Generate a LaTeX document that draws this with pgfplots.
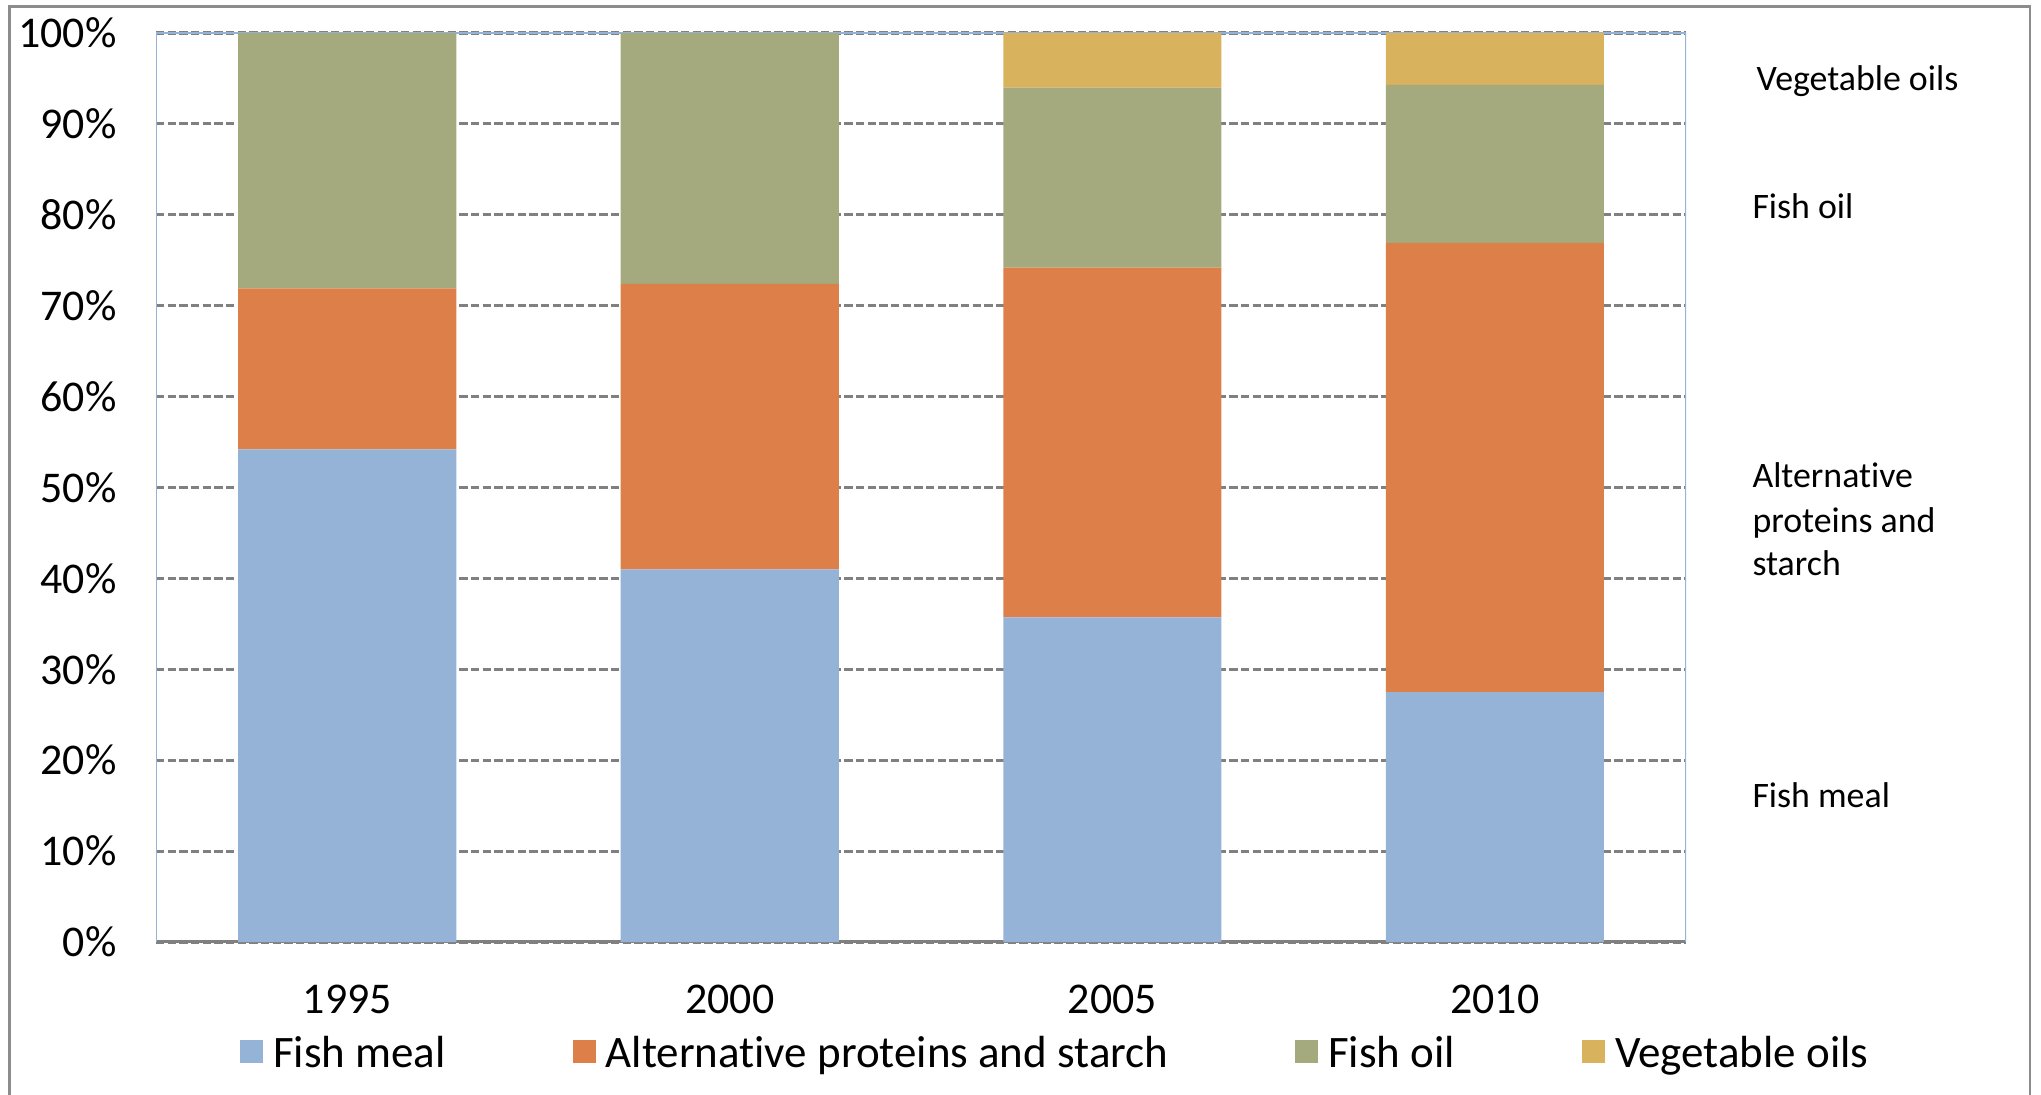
\documentclass[border=0pt]{standalone}
\usepackage{pgfplots}
\usepackage{pgfplotstable}
\pgfplotsset{compat=1.18}
\usepackage{fontspec}
\setmainfont{Carlito}[Ligatures=NoCommon]
\definecolor{fmeal}{RGB}{149,179,215}
\definecolor{altp}{RGB}{221,127,72}
\definecolor{foil}{RGB}{164,170,126}
\definecolor{voil}{RGB}{216,178,92}
\definecolor{gridc}{RGB}{128,128,128}
\definecolor{framec}{RGB}{149,179,215}
\definecolor{borderc}{RGB}{140,140,140}

\pgfplotstableread{
x fm alt fo vo
0 54.2 17.7 28.1 0
1 41.0 31.4 27.6 0
2 35.7 38.5 19.8 6.0
3 27.5 49.4 17.4 5.7
}\datatable

\pgfplotsset{sq legend/.style={legend image code/.code={\fill[##1] (0pt,-3.2pt) rectangle (8.3pt,5.1pt);}}}

\begin{document}
\begin{tikzpicture}
\useasboundingbox (0pt,0pt) rectangle (734.76pt,393.84pt);
\draw[borderc, line width=1pt] (3.42pt,-10pt) rectangle (730.8pt,391.4pt);
\begin{axis}[
  at={(56.16pt,54.72pt)}, anchor=south west,
  scale only axis, width=550.8pt, height=327.24pt,
  ybar stacked, bar width=0.57,
  xmin=-0.5, xmax=3.5, ymin=0, ymax=100,
  xtick={0,1,2,3}, xticklabels={1995,2000,2005,2010},
  ytick={0,10,20,30,40,50,60,70,80,90,100},
  yticklabels={0\%,10\%,20\%,30\%,40\%,50\%,60\%,70\%,80\%,90\%,100\%},
  ymajorgrids,
  grid style={gridc, line width=1.1pt, dash pattern=on 3pt off 1.2pt},
  major tick length=0pt,
  axis line style={draw=none},
  tick label style={font=\fontsize{15.8}{18}\selectfont},
  yticklabel style={anchor=east, inner sep=0pt, xshift=-14pt},
  xticklabel style={anchor=base, inner sep=0pt, yshift=-25.6pt},
  legend style={at={(0.0549,-0.1235)}, anchor=west, draw=none, fill=none,
    inner sep=0pt, outer sep=0pt, legend columns=4,
    font=\fontsize{16.2}{19}\selectfont,
    nodes={inner sep=0pt},
    /tikz/every even column/.append style={column sep=45.7pt},
    /tikz/every odd column/.append style={column sep=3.6pt}},
]
\addplot[fill=fmeal, draw=none, sq legend] table[x=x,y=fm]{\datatable};
\addplot[fill=altp, draw=none, sq legend] table[x=x,y=alt]{\datatable};
\addplot[fill=foil, draw=none, sq legend] table[x=x,y=fo]{\datatable};
\addplot[fill=voil, draw=none, sq legend] table[x=x,y=vo]{\datatable};
\legend{Fish meal, Alternative proteins and starch, Fish oil, Vegetable oils}
\draw[framec, line width=0.75pt] (rel axis cs:0,0) -- (rel axis cs:0,1) -- (rel axis cs:1,1) -- (rel axis cs:1,0);
\draw[gridc, line width=1.2pt] (rel axis cs:0,0) -- (rel axis cs:1,0);
\end{axis}
\begin{scope}[every node/.style={anchor=base west, inner sep=0pt, font=\fontsize{12.9}{15}\selectfont}]
\node at (632.2pt,361.4pt) {Vegetable oils};
\node at (630.7pt,315.0pt) {Fish oil};
\node at (630.7pt,218.2pt) {Alternative};
\node at (630.7pt,202.3pt) {proteins and};
\node at (630.7pt,186.8pt) {starch};
\node at (630.7pt,103.0pt) {Fish meal};
\end{scope}
\end{tikzpicture}
\end{document}
